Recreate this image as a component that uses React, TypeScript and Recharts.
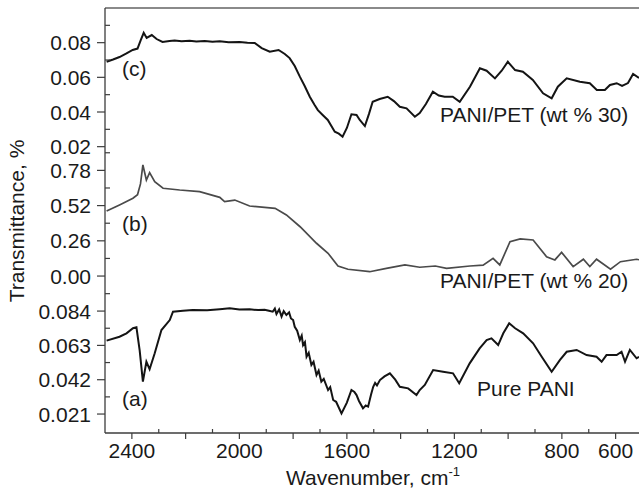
import { LineChart, Line, XAxis, YAxis, ReferenceLine } from "recharts";

const FONT = "'Liberation Sans', Arial, Helvetica, sans-serif";
const AXIS = "#3c3c3c";

// wavenumber axis
const X_DOMAIN: [number, number] = [513, 2500];
const xTicks = [2400, 2300, 2200, 2100, 2000, 1900, 1800, 1700, 1600, 1500, 1400, 1300, 1200, 1100, 1000, 900, 800, 700, 600];
const xMajor = [2400, 2200, 2000, 1800, 1600, 1400, 1200, 1000, 800, 600];
const xLabels = [2400, 2000, 1600, 1200, 800, 600];

// (c) PANI/PET wt% 30
const cWave = [2494, 2470, 2446, 2420, 2397, 2379, 2367, 2356, 2345, 2326, 2308, 2286, 2260, 2241, 2215, 2185, 2160, 2129, 2100, 2073, 2040, 1999, 1970, 1943, 1917, 1887, 1854, 1831, 1813, 1794, 1775, 1757, 1738, 1720, 1708, 1690, 1671, 1645, 1630, 1616, 1600, 1583, 1564, 1552, 1533, 1518, 1504, 1478, 1448, 1425, 1403, 1378, 1347, 1329, 1306, 1280, 1258, 1236, 1206, 1180, 1142, 1105, 1080, 1049, 1024, 1001, 974, 945, 908, 870, 838, 815, 782, 733, 696, 670, 640, 621, 596, 576, 554, 535, 513];
const cTrans = [0.069, 0.0703, 0.0717, 0.0738, 0.0758, 0.0766, 0.0815, 0.0857, 0.0827, 0.0844, 0.0821, 0.0804, 0.081, 0.0812, 0.0808, 0.0811, 0.0807, 0.081, 0.0806, 0.0808, 0.0803, 0.0804, 0.08, 0.0798, 0.0769, 0.0748, 0.0758, 0.0735, 0.0711, 0.0665, 0.0604, 0.055, 0.0488, 0.044, 0.0411, 0.0383, 0.0354, 0.0286, 0.0275, 0.0257, 0.0308, 0.0387, 0.0383, 0.0354, 0.0319, 0.0388, 0.0459, 0.0475, 0.0488, 0.0463, 0.043, 0.0421, 0.0373, 0.0394, 0.0446, 0.0517, 0.0495, 0.0488, 0.0488, 0.0459, 0.0546, 0.0652, 0.0638, 0.0594, 0.0638, 0.069, 0.0642, 0.0632, 0.0585, 0.0508, 0.0479, 0.0546, 0.0594, 0.0575, 0.0566, 0.0527, 0.0527, 0.0556, 0.0566, 0.055, 0.0567, 0.0619, 0.0596];

// (b) PANI/PET wt% 20
const bWave = [2494, 2446, 2396, 2379, 2368, 2359, 2346, 2334, 2315, 2284, 2222, 2148, 2073, 2055, 2017, 1962, 1867, 1825, 1774, 1713, 1670, 1633, 1596, 1515, 1453, 1384, 1329, 1271, 1229, 1142, 1093, 1056, 1031, 993, 955, 907, 857, 826, 801, 758, 720, 696, 671, 619, 582, 522, 513];
const bTrans = [0.48, 0.525, 0.574, 0.6, 0.68, 0.82, 0.709, 0.763, 0.696, 0.648, 0.635, 0.623, 0.581, 0.549, 0.561, 0.517, 0.5, 0.451, 0.364, 0.242, 0.168, 0.074, 0.05, 0.032, 0.057, 0.082, 0.065, 0.074, 0.057, 0.074, 0.08, 0.131, 0.082, 0.254, 0.274, 0.266, 0.143, 0.119, 0.175, 0.07, 0.124, 0.07, 0.124, 0.05, 0.106, 0.124, 0.12];

// (a) Pure PANI
const aWave = [2494, 2446, 2420, 2396, 2383, 2371, 2359, 2346, 2334, 2315, 2290, 2259, 2247, 2210, 2174, 2120, 2073, 2036, 2000, 1962, 1930, 1906, 1890, 1876, 1868, 1862, 1852, 1843, 1835, 1825, 1815, 1808, 1800, 1794, 1785, 1775, 1768, 1763, 1756, 1750, 1742, 1732, 1724, 1713, 1705, 1695, 1686, 1670, 1662, 1651, 1640, 1620, 1600, 1583, 1572, 1564, 1555, 1540, 1530, 1521, 1510, 1502, 1495, 1488, 1477, 1460, 1440, 1420, 1403, 1372, 1341, 1329, 1310, 1279, 1242, 1205, 1182, 1143, 1106, 1080, 1062, 1037, 1018, 996, 974, 944, 907, 875, 838, 807, 782, 745, 708, 671, 652, 634, 596, 578, 565, 547, 522, 513];
const aTrans = [0.0659, 0.0683, 0.0704, 0.0735, 0.0741, 0.06, 0.0408, 0.053, 0.0484, 0.0582, 0.0724, 0.0785, 0.0836, 0.0842, 0.0847, 0.0845, 0.0851, 0.0857, 0.085, 0.0851, 0.0846, 0.0848, 0.0842, 0.0836, 0.0855, 0.0822, 0.085, 0.0806, 0.084, 0.0816, 0.0832, 0.0795, 0.0785, 0.0744, 0.072, 0.0663, 0.069, 0.0632, 0.065, 0.0561, 0.0585, 0.051, 0.053, 0.0449, 0.0475, 0.0408, 0.0425, 0.0357, 0.0375, 0.0296, 0.0285, 0.0214, 0.028, 0.0357, 0.0345, 0.0326, 0.029, 0.0245, 0.0262, 0.0255, 0.033, 0.0377, 0.04, 0.0385, 0.0418, 0.044, 0.0459, 0.042, 0.0377, 0.0367, 0.0326, 0.0357, 0.0388, 0.0479, 0.0469, 0.0459, 0.0398, 0.052, 0.0612, 0.0663, 0.0673, 0.0632, 0.0704, 0.0765, 0.0735, 0.0704, 0.0643, 0.0561, 0.0469, 0.0541, 0.0591, 0.0602, 0.0571, 0.0561, 0.053, 0.0571, 0.0571, 0.0591, 0.053, 0.0602, 0.0551, 0.056];

// y ticks per panel
const cMajor = [0.02, 0.04, 0.06, 0.08];
const cMinor = [0.03, 0.05, 0.07, 0.09];
const bMajor = [0, 0.26, 0.52, 0.78];
const bMinor = [-0.13, 0.13, 0.39, 0.65, 0.91];
const aMajor = [0.021, 0.042, 0.063, 0.084];
const aMinor = [0.0315, 0.0525, 0.0735];

const toRows = (w: number[], t: number[]) => w.map((x, i) => ({ w: x, v: t[i] }));
const cData = toRows(cWave, cTrans);
const bData = toRows(bWave, bTrans);
const aData = toRows(aWave, aTrans);

const W = 639;

function XTick(props: any) {
  const { x, y, payload } = props;
  const v = payload.value;
  const major = xMajor.includes(v);
  return (
    <g>
      <line x1={x} x2={x} y1={y} y2={major ? y + 6 : y - 4} stroke={AXIS} strokeWidth={1.2} />
      {xLabels.includes(v) && (
        <text x={x} y={y + 25} textAnchor="middle" fontFamily={FONT} fontSize={21} fill="#1a1a1a">
          {v}
        </text>
      )}
    </g>
  );
}

const makeYTick = (major: number[], digits: number) => (props: any) => {
  const { x, y, payload } = props;
  const v = payload.value;
  const isMajor = major.includes(v);
  return (
    <g>
      <line x1={isMajor ? x - 8 : x} x2={isMajor ? x : x + 5} y1={y} y2={y} stroke={AXIS} strokeWidth={1.2} />
      {isMajor && (
        <text x={x - 14} y={y} dy="0.36em" textAnchor="end" fontFamily={FONT} fontSize={21} fill="#1a1a1a">
          {v.toFixed(digits)}
        </text>
      )}
    </g>
  );
};

export default function App() {
  const axisLine = { stroke: AXIS, strokeWidth: 1.3 };
  const yCommon = {
    width: 105,
    type: "number" as const,
    tickLine: false,
    tickSize: 0,
    tickMargin: 0,
    interval: 0 as const,
    axisLine,
    allowDataOverflow: true,
  };
  return (
    <div style={{ position: "absolute", left: 0, top: 0, width: W, height: 491, overflow: "hidden", background: "#fff" }}>
      <div style={{ position: "absolute", left: 0, top: 151 }}>
        <LineChart width={W} height={147} data={bData} margin={{ top: 0, right: 0, bottom: 0, left: 0 }}>
          <XAxis dataKey="w" type="number" domain={X_DOMAIN} reversed hide allowDataOverflow />
          <YAxis {...yCommon} domain={[-0.162, 0.923]} ticks={[...bMajor, ...bMinor]} tick={makeYTick(bMajor, 2)} />
          <Line type="linear" dataKey="v" stroke="#4a4a4a" strokeWidth={1.7} dot={false} isAnimationActive={false} />
        </LineChart>
      </div>
      <div style={{ position: "absolute", left: 0, top: 298 }}>
        <LineChart width={W} height={193} data={aData} margin={{ top: 0, right: 0, bottom: 0, left: 0 }}>
          <XAxis
            dataKey="w"
            type="number"
            domain={X_DOMAIN}
            reversed
            allowDataOverflow
            ticks={xTicks}
            interval={0}
            height={58}
            tickLine={false}
            tickSize={0}
            tickMargin={0}
            axisLine={axisLine}
            tick={XTick}
          />
          <YAxis {...yCommon} domain={[0.0094, 0.092]} ticks={[...aMajor, ...aMinor]} tick={makeYTick(aMajor, 3)} />
          <Line type="linear" dataKey="v" stroke="#141414" strokeWidth={2} dot={false} isAnimationActive={false} />
        </LineChart>
      </div>
      {/* top panel drawn last, its svg runs 14px past the panel so the 0.02 label is not clipped */}
      <div style={{ position: "absolute", left: 0, top: 0 }}>
        <LineChart width={W} height={165} data={cData} margin={{ top: 8, right: 0, bottom: 14, left: 0 }}>
          <XAxis dataKey="w" type="number" domain={X_DOMAIN} reversed hide allowDataOverflow />
          <YAxis {...yCommon} domain={[0.0175, 0.1]} ticks={[...cMajor, ...cMinor]} tick={makeYTick(cMajor, 2)} />
          <ReferenceLine y={0.1} stroke="#8a8a8a" strokeWidth={2} />
          <Line type="linear" dataKey="v" stroke="#141414" strokeWidth={2} dot={false} isAnimationActive={false} />
        </LineChart>
      </div>
      <svg width={W} height={491} style={{ position: "absolute", left: 0, top: 0, pointerEvents: "none" }}>
        <g fontFamily={FONT} fontSize={21} fill="#1a1a1a">
          <text x={122} y={76}>(c)</text>
          <text x={122} y={231}>(b)</text>
          <text x={122} y={406}>(a)</text>
          <text x={440} y={122}>PANI/PET (wt % 30)</text>
          <text x={440} y={288}>PANI/PET (wt % 20)</text>
          <text x={477} y={396}>Pure PANI</text>
          <text x={373} y={485} textAnchor="middle">
            Wavenumber, cm<tspan fontSize={13} dy={-9}>-1</tspan>
          </text>
          <text transform="translate(24 221) rotate(-90)" textAnchor="middle">
            Transmittance, %
          </text>
        </g>
      </svg>
    </div>
  );
}
